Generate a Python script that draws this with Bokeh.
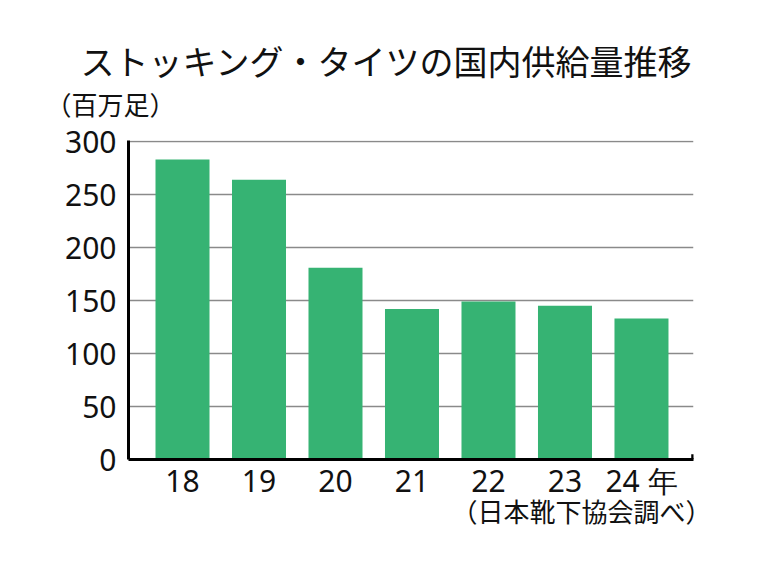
from bokeh.plotting import figure
from bokeh.models import Range1d, Title, FixedTicker, ColumnDataSource
from bokeh.embed import file_html
from bokeh.resources import INLINE

# ---- data ----
years = ["18", "19", "20", "21", "22", "23", "24 年"]
supply = [283, 264, 181, 142, 149, 145, 133]
y_ticks = [0, 50, 100, 150, 200, 250, 300]
title_text = "ストッキング・タイツの国内供給量推移"
unit_text = "（百万足）"
source_text = "（日本靴下協会調べ）"

xs = list(range(len(years)))
src = ColumnDataSource(dict(x=xs, top=supply))

JP = "Noto Sans CJK JP"
NUM = "Noto Sans"

x0, x1 = -0.706, 6.68
p = figure(width=760, height=570, output_backend="svg", toolbar_location=None,
           x_range=Range1d(x0, x1), y_range=Range1d(0, 301), title=None,
           min_border_left=128, min_border_right=67,
           min_border_top=140, min_border_bottom=111)
p.outline_line_color = None
p.background_fill_color = "white"

p.vbar(x="x", top="top", width=0.706, bottom=0, source=src,
       fill_color="#36b373", line_color=None)

# y axis
ya = p.yaxis[0]
ya.ticker = FixedTicker(ticks=y_ticks)
ya.axis_line_width = 3
ya.axis_line_color = "black"
ya.major_tick_line_color = None
ya.minor_tick_line_color = None
ya.major_label_text_font = NUM
ya.major_label_text_font_size = "30px"
ya.major_label_text_color = "#111111"
ya.major_label_standoff = 6

# x axis
xa = p.xaxis[0]
xa.ticker = FixedTicker(ticks=xs)
xa.major_label_overrides = {i: lab for i, lab in enumerate(years)}
xa.axis_line_width = 3
xa.axis_line_color = "black"
xa.major_tick_line_color = None
xa.minor_tick_line_color = None
xa.major_label_text_font = NUM
xa.major_label_text_font_size = "30px"
xa.major_label_text_color = "#111111"
xa.major_label_standoff = -6

p.xgrid.grid_line_color = None
p.ygrid.ticker = FixedTicker(ticks=y_ticks)
p.ygrid.grid_line_color = "#8a8a8a"
p.ygrid.grid_line_width = 1.5

# end hook of the base line
p.segment(x0=[x1 - 0.01], y0=[0], x1=[x1 - 0.01], y1=[5],
          line_color="black", line_width=3)

p.add_layout(Title(text=unit_text, text_font=JP, text_font_size="26px",
                   text_font_style="normal", align="left", offset=-83,
                   standoff=38, text_color="#111111"), "above")
p.add_layout(Title(text=title_text, text_font=JP, text_font_size="34px",
                   text_font_style="normal", align="left", offset=-48,
                   standoff=-43, text_color="#111111"), "above")
p.add_layout(Title(text=source_text, text_font=JP, text_font_size="26px",
                   text_font_style="normal", align="right", offset=-18,
                   vertical_align="top", standoff=-24,
                   text_color="#111111"), "below")

open("out.html", "w").write(file_html(p, INLINE))
